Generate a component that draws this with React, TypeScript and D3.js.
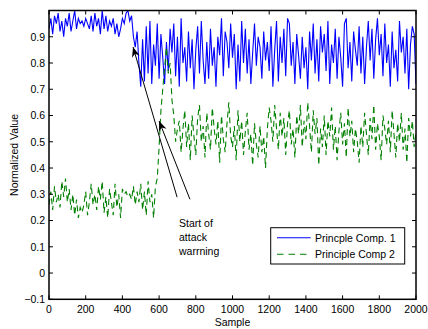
import React from 'react';
import * as d3 from 'd3';

// sample index step is 10 (0..2000)
const samples = d3.range(0, 2001, 10);

const comp1 = [
  0.93, 0.97, 0.91, 0.98, 0.95, 0.99, 0.92, 0.96, 0.90, 0.97,
  0.94, 0.99, 0.92, 0.96, 1.00, 0.93, 0.97, 0.95, 0.96, 0.94,
  0.97, 0.95, 0.93, 0.98, 0.92, 0.99, 0.94, 0.97, 0.91, 1.00,
  0.93, 0.98, 0.92, 0.96, 0.94, 0.97, 0.91, 0.95, 0.90, 0.93,
  0.97, 0.95, 0.99, 1.00, 0.96, 0.98, 0.90, 0.86, 0.92, 0.80,
  0.71, 0.89, 0.73, 0.94, 0.76, 0.96, 0.72, 0.87, 0.79, 0.95,
  0.74, 0.91, 0.82, 0.72, 0.88, 0.77, 0.93, 0.84, 0.95, 0.75,
  0.90, 0.71, 0.97, 0.80, 0.86, 0.73, 0.92, 0.78, 0.89, 0.70,
  0.85, 0.94, 0.76, 0.96, 0.81, 0.72, 0.88, 0.74, 0.93, 0.79,
  0.86, 0.71, 0.90, 0.83, 0.97, 0.75, 0.92, 0.88, 0.78, 0.95,
  0.82, 0.91, 0.70, 0.87, 0.73, 0.96, 0.80, 0.93, 0.76, 0.89,
  0.72, 0.84, 0.95, 0.79, 0.90, 0.86, 0.74, 0.92, 0.81, 0.88,
  0.77, 0.94, 0.71, 0.85, 0.96, 0.73, 0.90, 0.80, 0.93, 0.75,
  0.97, 0.95, 0.79, 0.88, 0.72, 0.91, 0.83, 0.74, 0.90, 0.78,
  0.86, 0.70, 0.92, 0.81, 0.95, 0.76, 0.89, 0.73, 0.94, 0.84,
  0.91, 0.77, 0.96, 0.72, 0.87, 0.80, 0.93, 0.74, 0.90, 0.82,
  0.71, 0.95, 0.97, 0.78, 0.88, 0.73, 0.92, 0.85, 0.79, 0.94,
  0.76, 0.90, 0.72, 0.86, 0.96, 0.81, 0.93, 0.74, 0.89, 0.97,
  0.83, 0.91, 0.75, 0.95, 0.80, 0.87, 0.71, 0.92, 0.78, 0.85,
  0.73, 0.96, 0.84, 0.90, 0.76, 0.93, 0.70, 0.87, 0.94, 0.91,
  0.72,
];

const comp2 = [
  0.26, 0.31, 0.24, 0.33, 0.27, 0.30, 0.25, 0.35, 0.29, 0.36,
  0.27, 0.32, 0.24, 0.30, 0.22, 0.28, 0.21, 0.25, 0.23, 0.26,
  0.31, 0.22, 0.27, 0.34, 0.26, 0.30, 0.24, 0.33, 0.28, 0.35,
  0.23, 0.29, 0.21, 0.32, 0.27, 0.22, 0.34, 0.25, 0.30, 0.21,
  0.32, 0.30, 0.31, 0.29, 0.30, 0.28, 0.33, 0.26, 0.31, 0.27,
  0.34, 0.24, 0.31, 0.22, 0.35, 0.27, 0.30, 0.21, 0.33, 0.36,
  0.48, 0.62, 0.70, 0.78, 0.86, 0.76, 0.80, 0.66, 0.60, 0.50,
  0.55, 0.58, 0.46, 0.55, 0.62, 0.48, 0.57, 0.43, 0.60, 0.52,
  0.45, 0.59, 0.64, 0.50, 0.56, 0.44, 0.61, 0.53, 0.47, 0.63,
  0.55, 0.49, 0.58, 0.42, 0.60, 0.51, 0.46, 0.57, 0.65, 0.52,
  0.48, 0.56, 0.43, 0.62, 0.50, 0.58, 0.45, 0.54, 0.61, 0.47,
  0.53, 0.41, 0.57, 0.49, 0.44, 0.56, 0.46, 0.52, 0.40, 0.55,
  0.63, 0.58, 0.50, 0.64, 0.55, 0.47, 0.61, 0.52, 0.59, 0.45,
  0.57, 0.62, 0.49, 0.55, 0.44, 0.60, 0.53, 0.64, 0.48, 0.58,
  0.51, 0.65, 0.56, 0.46, 0.62, 0.53, 0.59, 0.41, 0.55, 0.48,
  0.60, 0.45, 0.58, 0.52, 0.63, 0.47, 0.56, 0.43, 0.54, 0.61,
  0.49, 0.57, 0.44, 0.63, 0.52, 0.58, 0.46, 0.55, 0.50, 0.42,
  0.56, 0.48, 0.61, 0.53, 0.45, 0.59, 0.51, 0.64, 0.47, 0.57,
  0.52, 0.43, 0.60, 0.55, 0.49, 0.58, 0.46, 0.62, 0.53, 0.44,
  0.57, 0.50, 0.61, 0.47, 0.55, 0.42, 0.59, 0.52, 0.58, 0.48,
  0.54,
];

const xTicks = [0, 200, 400, 600, 800, 1000, 1200, 1400, 1600, 1800, 2000];
const yTicks = [-0.1, 0, 0.1, 0.2, 0.3, 0.4, 0.5, 0.6, 0.7, 0.8, 0.9];

const legendLabels = ['Princple Comp. 1', 'Principle Comp 2'];
const noteLines = ['Start of', 'attack', 'warrning'];
// arrows: [tail sample, tail value, head sample, head value]
const arrows = [
  [698, 0.289, 458, 0.861],
  [768, 0.281, 600, 0.579],
];

const font = 'Liberation Sans, Arial, Helvetica, sans-serif';

export default function App() {
  const W = 428, H = 329;
  const left = 49, right = 416, top = 10.5, bottom = 299.3;

  const x = d3.scaleLinear().domain([0, 2000]).range([left, right]);
  const y = d3.scaleLinear().domain([-0.1, 1.0]).range([bottom, top]);

  const line = d3.line<number>()
    .x((_, i) => x(samples[i]))
    .y(d => y(d));

  const tickLen = 4;

  return (
    <svg width={W} height={H} style={{ position: 'absolute', left: 0, top: 0, background: '#fff' }}
      fontFamily={font}>
      <defs>
        <clipPath id="plotClip">
          <rect x={left} y={top} width={right - left} height={bottom - top} />
        </clipPath>
        <marker id="arrowHead" viewBox="0 0 10 10" refX="10" refY="5" markerWidth="10" markerHeight="10"
          markerUnits="userSpaceOnUse" orient="auto">
          <path d="M0,1 L10,5 L0,9 L3,5 Z" fill="#000" />
        </marker>
      </defs>
      <rect width={W} height={H} fill="#fff" />

      <g clipPath="url(#plotClip)">
        <path d={line(comp1) ?? ''} fill="none" stroke="#0000ff" strokeWidth={1.1} />
        <path d={line(comp2) ?? ''} fill="none" stroke="#008000" strokeWidth={1.1} strokeDasharray="6,4" />
      </g>

      {/* axes box */}
      <rect x={left} y={top} width={right - left} height={bottom - top} fill="none" stroke="#000" strokeWidth={1.5} />

      {xTicks.map(t => (
        <g key={'x' + t}>
          <line x1={x(t)} x2={x(t)} y1={bottom} y2={bottom - tickLen} stroke="#000" />
          <line x1={x(t)} x2={x(t)} y1={top} y2={top + tickLen} stroke="#000" />
          <text x={x(t)} y={bottom + 14} textAnchor="middle" fontSize={10.5}>{t}</text>
        </g>
      ))}
      {yTicks.map(t => (
        <g key={'y' + t}>
          <line x1={left} x2={left + tickLen} y1={y(t)} y2={y(t)} stroke="#000" />
          <line x1={right} x2={right - tickLen} y1={y(t)} y2={y(t)} stroke="#000" />
          <text x={left - 4} y={y(t) + 3.8} textAnchor="end" fontSize={10.5}>{d3.format('~g')(+t.toFixed(1))}</text>
        </g>
      ))}

      <text x={(left + right) / 2} y={326} textAnchor="middle" fontSize={10.5}>Sample</text>
      <text transform={`translate(18,${(top + bottom) / 2}) rotate(-90)`} textAnchor="middle" fontSize={10.5}>
        Normalized Value
      </text>

      {/* annotation */}
      {arrows.map((a, i) => (
        <line key={'a' + i} x1={x(a[0])} y1={y(a[1])} x2={x(a[2])} y2={y(a[3])}
          stroke="#000" strokeWidth={1} markerEnd="url(#arrowHead)" />
      ))}
      {noteLines.map((s, i) => (
        <text key={'n' + i} x={179} y={227 + i * 14} fontSize={10.5}>{s}</text>
      ))}

      {/* legend */}
      <rect x={270.7} y={227.7} width={134} height={36.3} fill="#fff" stroke="#000" strokeWidth={1} />
      {legendLabels.map((s, i) => (
        <g key={'l' + i}>
          <line x1={277} x2={310.7} y1={237.7 + i * 16.6} y2={237.7 + i * 16.6}
            stroke={i === 0 ? '#0000ff' : '#008000'} strokeWidth={1.1}
            strokeDasharray={i === 0 ? undefined : '6.5,5'} />
          <text x={315} y={241.6 + i * 16.6} fontSize={10.5}>{s}</text>
        </g>
      ))}
    </svg>
  );
}
